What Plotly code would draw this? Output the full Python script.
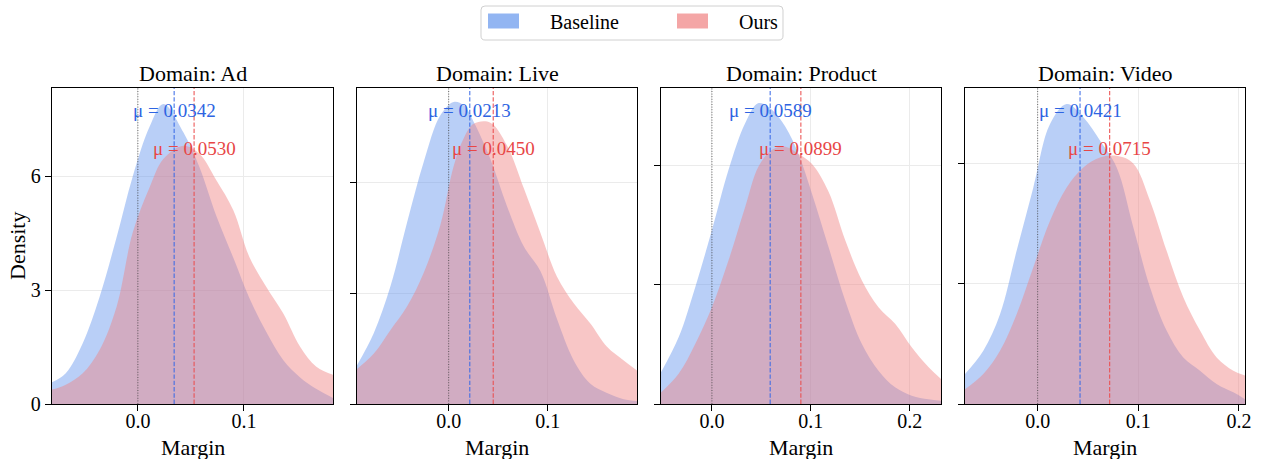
import plotly.graph_objects as go

# ---------------- data ----------------
domains = ["Ad", "Live", "Product", "Video"]

ad_x = [-0.081, -0.068, -0.052, -0.036, -0.020, -0.005, 0.011, 0.024, 0.043, 0.058,
        0.074, 0.090, 0.105, 0.121, 0.137, 0.153, 0.168, 0.184]
ad_baseline = [0.57, 0.81, 1.60, 2.83, 4.40, 5.98, 7.30, 7.90, 7.15, 6.24,
               4.95, 3.85, 2.80, 1.90, 1.16, 0.70, 0.40, 0.16]
ad_ours = [0.38, 0.51, 0.81, 1.43, 2.57, 4.50, 5.70, 6.45, 6.80, 6.59,
           5.89, 5.10, 3.88, 3.09, 2.39, 1.51, 0.99, 0.77]

live_x = [-0.0926, -0.0758, -0.0589, -0.0421, -0.0253, -0.0084, 0.0051, 0.0152, 0.0253,
          0.0421, 0.0589, 0.0758, 0.0926, 0.1094, 0.1263, 0.1431, 0.1599, 0.1768, 0.1902]
live_baseline = [1.05, 1.91, 3.18, 4.91, 6.55, 7.82, 8.18, 8.09, 7.64,
                 6.64, 5.36, 4.27, 3.60, 2.30, 1.18, 0.55, 0.30, 0.13, 0.08]
live_ours = [0.95, 1.36, 2.00, 2.64, 3.55, 4.85, 6.45, 7.20, 7.59,
             7.62, 7.00, 5.85, 4.64, 3.45, 2.73, 2.18, 1.55, 1.18, 0.91]

product_x = [-0.0515, -0.0337, -0.0168, 0.0, 0.0168, 0.0337, 0.0471, 0.0606, 0.0741,
             0.0875, 0.1010, 0.1178, 0.1347, 0.1515, 0.1684, 0.1852, 0.2020, 0.2189, 0.2316]
product_baseline = [0.80, 1.68, 2.95, 4.38, 5.90, 7.08, 7.58, 7.41, 6.99,
                    6.30, 5.31, 3.96, 2.61, 1.52, 0.84, 0.42, 0.21, 0.12, 0.08]
product_ours = [0.29, 0.76, 1.52, 2.44, 3.62, 4.97, 5.98, 6.40, 6.48,
                6.30, 6.05, 5.35, 4.13, 3.12, 2.44, 2.02, 1.43, 0.93, 0.63]

video_x = [-0.0722, -0.0540, -0.0374, -0.0209, -0.0043, 0.0123, 0.0288, 0.0454, 0.0619,
           0.0785, 0.0950, 0.1116, 0.1281, 0.1447, 0.1613, 0.1778, 0.1944, 0.2060]
video_baseline = [0.75, 1.33, 2.24, 3.82, 5.40, 6.98, 7.48, 7.15, 6.57,
                  5.90, 4.41, 2.91, 1.83, 1.16, 0.83, 0.50, 0.29, 0.12]
video_ours = [0.37, 0.75, 1.33, 2.24, 3.41, 4.57, 5.40, 5.90, 6.15,
              6.19, 6.00, 5.07, 3.82, 2.66, 1.83, 1.16, 0.83, 0.71]

baseline_means = [0.0342, 0.0213, 0.0589, 0.0421]
ours_means = [0.0530, 0.0450, 0.0899, 0.0715]

x_ranges = [[-0.081, 0.184], [-0.0926, 0.1902], [-0.0515, 0.2316], [-0.0722, 0.2060]]
y_ranges = [[0, 8.32], [0, 8.56], [0, 7.96], [0, 7.88]]
x_ticks = [[0.0, 0.1], [0.0, 0.1], [0.0, 0.1, 0.2], [0.0, 0.1, 0.2]]
y_ticks = [0, 3, 6]

series_x = [ad_x, live_x, product_x, video_x]
series_base = [ad_baseline, live_baseline, product_baseline, video_baseline]
series_ours = [ad_ours, live_ours, product_ours, video_ours]

# ---------------- styling ----------------
W, H = 1263, 459
FONT = "Liberation Serif, Times New Roman, serif"
BLUE_FILL = "rgba(100,149,237,0.45)"
RED_FILL = "rgba(240,128,128,0.45)"
BLUE_PATCH = "rgba(100,149,237,0.70)"
RED_PATCH = "rgba(240,128,128,0.70)"
BLUE_LINE = "rgba(55,105,230,0.85)"
RED_LINE = "rgba(235,75,75,0.85)"
BLUE_TEXT = "#2E64E2"
RED_TEXT = "#E84646"

px_x = [(52, 333), (357, 637), (661, 941), (965, 1245)]
px_y = (88, 404)

fig = go.Figure()
shapes = []
annotations = []

for i, dom in enumerate(domains):
    n = "" if i == 0 else str(i + 1)
    xa, ya = "x" + n, "y" + n
    fig.add_trace(go.Scatter(
        x=series_x[i], y=series_base[i], xaxis=xa, yaxis=ya,
        mode="lines", line=dict(width=0, shape="spline", smoothing=1.0),
        fill="tozeroy", fillcolor=BLUE_FILL, name="Baseline", showlegend=False,
        hoverinfo="x+y"))
    fig.add_trace(go.Scatter(
        x=series_x[i], y=series_ours[i], xaxis=xa, yaxis=ya,
        mode="lines", line=dict(width=0, shape="spline", smoothing=1.0),
        fill="tozeroy", fillcolor=RED_FILL, name="Ours", showlegend=False,
        hoverinfo="x+y"))

    dom_x = [px_x[i][0] / W, px_x[i][1] / W]
    dom_y = [1 - px_y[1] / H, 1 - px_y[0] / H]
    axis_common = dict(
        showline=True, linecolor="black", linewidth=1.3, mirror=True,
        ticks="outside", ticklen=6, tickwidth=1.2, tickcolor="black",
        showgrid=True, gridcolor="#ebebeb", gridwidth=1, zeroline=False,
        automargin=False,
        tickfont=dict(family=FONT, size=20, color="black"),
    )
    fig.update_layout({
        "xaxis" + n: dict(
            axis_common, domain=dom_x, range=x_ranges[i], tickvals=x_ticks[i],
            tickformat=".1f", anchor=ya, ticklabelstandoff=-7),
        "yaxis" + n: dict(
            axis_common, domain=dom_y, range=y_ranges[i], tickvals=y_ticks,
            anchor=xa, showticklabels=(i == 0)),
    })

    # zero reference (dotted)
    shapes.append(dict(type="line", xref=xa, yref=ya + " domain", x0=0, x1=0, y0=0, y1=1,
                       line=dict(color="rgba(70,70,70,0.8)", width=1, dash="1px,1.6px")))
    # mean lines
    shapes.append(dict(type="line", xref=xa, yref=ya + " domain",
                       x0=baseline_means[i], x1=baseline_means[i], y0=0, y1=1,
                       line=dict(color=BLUE_LINE, width=1.2, dash="4.4px,1.9px")))
    shapes.append(dict(type="line", xref=xa, yref=ya + " domain",
                       x0=ours_means[i], x1=ours_means[i], y0=0, y1=1,
                       line=dict(color=RED_LINE, width=1.2, dash="4.4px,1.9px")))
    annotations.append(dict(xref=xa, yref=ya + " domain", x=baseline_means[i], y=0.93,
                            text=f"μ = {baseline_means[i]:.4f}", showarrow=False,
                            xanchor="center", yanchor="middle",
                            font=dict(family=FONT, size=19, color=BLUE_TEXT)))
    annotations.append(dict(xref=xa, yref=ya + " domain", x=ours_means[i], y=0.81,
                            text=f"μ = {ours_means[i]:.4f}", showarrow=False,
                            xanchor="center", yanchor="middle",
                            font=dict(family=FONT, size=19, color=RED_TEXT)))
    # panel title
    annotations.append(dict(xref=xa + " domain", yref=ya + " domain", x=0.5, y=1,
                            yshift=15, text=f"Domain: {dom}", showarrow=False,
                            xanchor="center", yanchor="middle",
                            font=dict(family=FONT, size=22, color="black")))
    # x axis title
    annotations.append(dict(xref=xa + " domain", yref=ya + " domain", x=0.5, y=0,
                            yshift=-44, text="Margin", showarrow=False,
                            xanchor="center", yanchor="middle",
                            font=dict(family=FONT, size=22, color="black")))

# y axis title (first panel only)
annotations.append(dict(xref="paper", yref="y domain", x=17 / W, y=0.5,
                        text="Density", textangle=-90, showarrow=False,
                        xanchor="center", yanchor="middle",
                        font=dict(family=FONT, size=22, color="black")))

# ---------------- legend (drawn at top centre) ----------------
def px2p(x, y):
    return x / W, 1 - y / H

lx0, ly0, lx1, ly1, r = 481, 6, 783, 40, 4
def P(x, y):
    a, b = px2p(x, y)
    return f"{a:.6f},{b:.6f}"
legend_path = (f"M {P(lx0 + r, ly0)} L {P(lx1 - r, ly0)} Q {P(lx1, ly0)} {P(lx1, ly0 + r)} "
               f"L {P(lx1, ly1 - r)} Q {P(lx1, ly1)} {P(lx1 - r, ly1)} "
               f"L {P(lx0 + r, ly1)} Q {P(lx0, ly1)} {P(lx0, ly1 - r)} "
               f"L {P(lx0, ly0 + r)} Q {P(lx0, ly0)} {P(lx0 + r, ly0)} Z")
shapes.append(dict(type="path", xref="paper", yref="paper", path=legend_path,
                   fillcolor="white", line=dict(color="#d0d0d0", width=1)))
legend_items = [("Baseline", BLUE_PATCH, 488, 548), ("Ours", RED_PATCH, 677, 737)]
for label, col, patch_x, text_x in legend_items:
    a0, b0 = px2p(patch_x, 13.5)
    a1, b1 = px2p(patch_x + 31, 28.5)
    shapes.append(dict(type="rect", xref="paper", yref="paper", x0=a0, x1=a1, y0=b1, y1=b0,
                       fillcolor=col, line=dict(width=0)))
    tx, ty = px2p(text_x, 22)
    annotations.append(dict(xref="paper", yref="paper", x=tx, y=ty, text=label,
                            showarrow=False, xanchor="left", yanchor="middle",
                            font=dict(family=FONT, size=20, color="black")))

fig.update_layout(
    template="none",
    width=W, height=H,
    margin=dict(l=0, r=0, t=0, b=0, pad=0),
    paper_bgcolor="white", plot_bgcolor="white",
    showlegend=False,
    shapes=shapes, annotations=annotations,
    font=dict(family=FONT, color="black"),
)

fig.write_html(
    "out.html",
    config={"displayModeBar": False},
    post_script="document.body.style.margin='0';document.body.style.padding='0';"
                "document.body.style.overflow='hidden';",
)
